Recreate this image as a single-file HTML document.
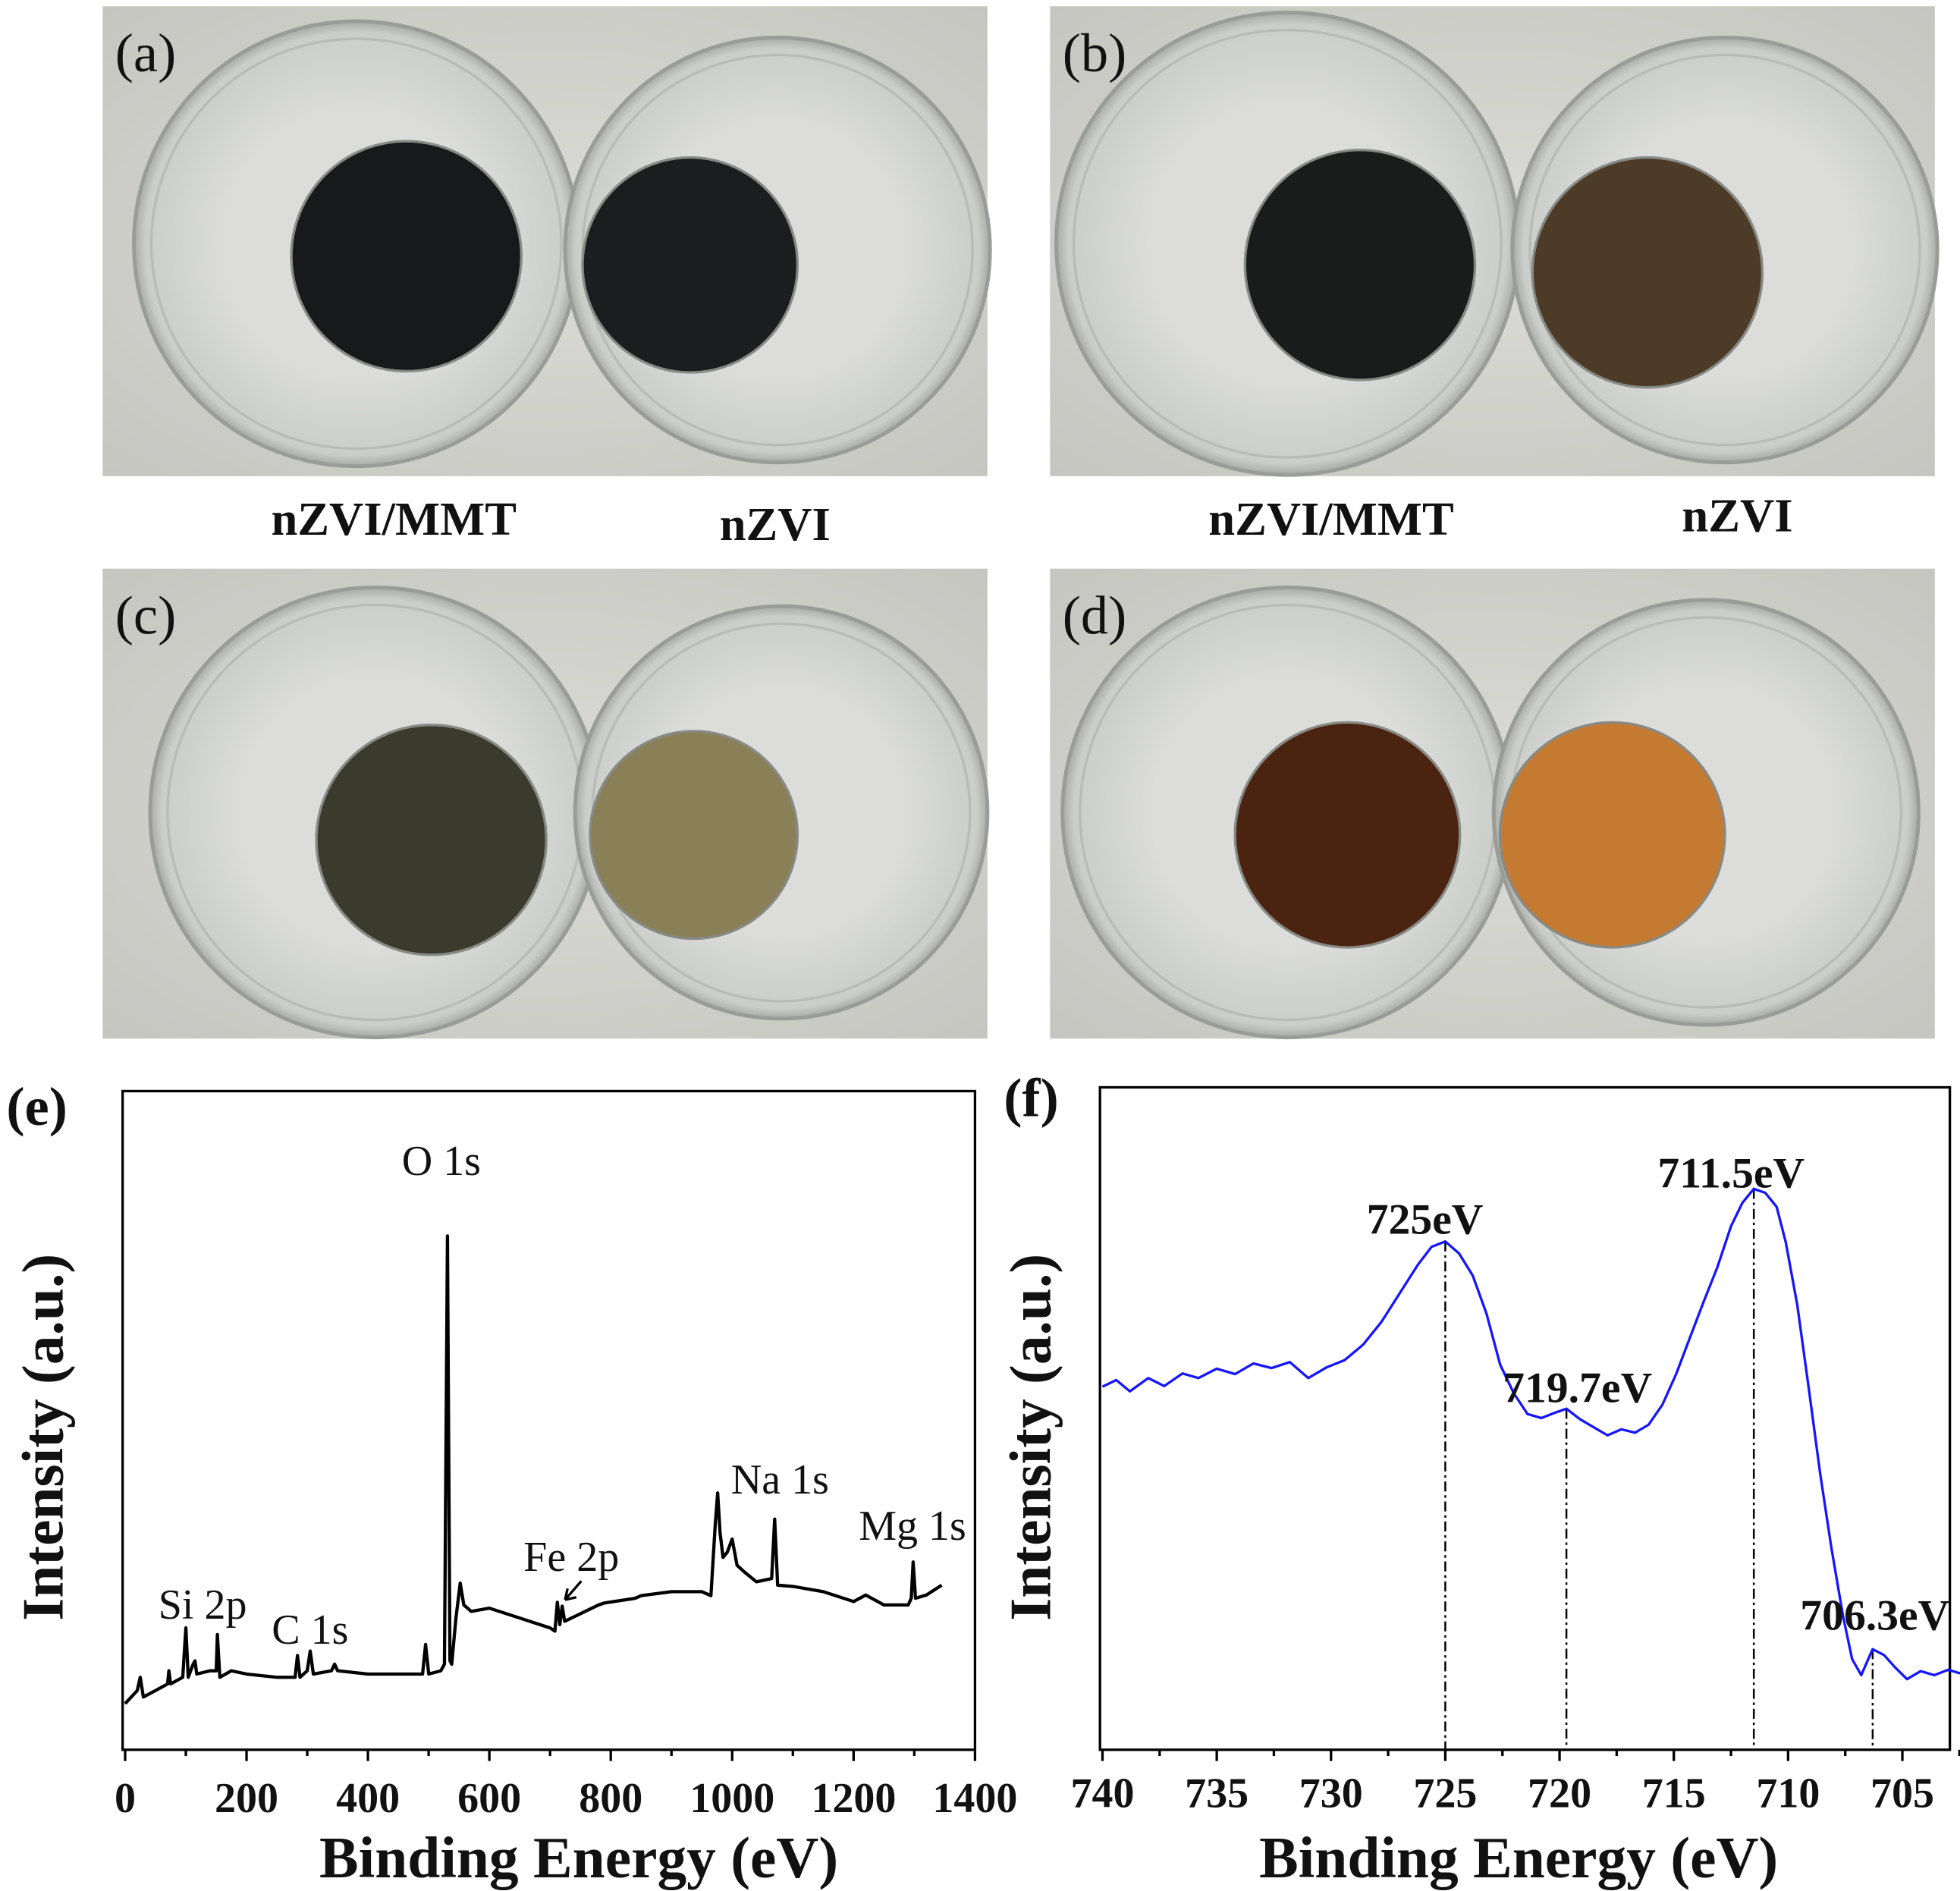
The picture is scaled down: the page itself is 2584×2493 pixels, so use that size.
<!DOCTYPE html>
<html><head><meta charset="utf-8"><style>
html,body{margin:0;padding:0;background:#fff}
svg{display:block}
text{font-family:"Liberation Serif",serif;fill:#111}
</style></head><body>
<svg id="fig" width="2584" height="2493" viewBox="0 0 1568 1513" xmlns="http://www.w3.org/2000/svg">
<defs>
<radialGradient id="bgA" cx="0.5" cy="0.5" r="0.7"><stop offset="0" stop-color="#dcdcd8"/><stop offset="1" stop-color="#c6c6c1"/></radialGradient>
<radialGradient id="glass" cx="0.5" cy="0.5" r="0.5"><stop offset="0.6" stop-color="#dcdddb"/><stop offset="0.95" stop-color="#cbcdc9"/><stop offset="1" stop-color="#a8aaa6"/></radialGradient>
</defs>
<g id="photos"></g>
<g id="chartE"></g>
<g id="chartF"></g>
</svg>
<script>
// ---------- data: panel (e) survey ----------
const eEnergy=[0,10,20,25,30,50,70,72,75,95,100,104,112,115,118,140,150,152,156,175,200,250,280,284,288,300,305,310,340,345,350,400,450,490,495,500,520,526,531,535,538,545,552,558,570,600,650,700,708,712,716,720,724,780,790,840,850,900,950,965,972,976,980,985,992,1000,1008,1020,1040,1065,1070,1075,1100,1150,1200,1220,1250,1290,1295,1298,1302,1320,1345];
const eIntensity=[7,8,9,11,8,9,10,12,10,11,18.5,11,13,13.5,11.5,12,12,17.5,11,12,11.5,11,11,14.3,11,12,15,11.5,12,13,12,11.5,11.5,11.5,16,11.5,12,13,78,13.5,13,20,25.3,22,21,21.5,20,18.5,18,22.4,19,21.8,19.5,22,22.3,23,23.4,24,24,23.4,34,39,33,29.2,30,32,28,27,25.5,26,35,25,24.8,24,22.5,23.5,22,22,23,28.5,23,23.5,25];
// ---------- data: panel (f) Fe 2p ----------
const fEnergy=[740,739.4,738.8,738,737.3,736.5,735.8,735,734.2,733.4,732.6,731.8,731,730.2,729.4,728.6,727.8,727,726.2,725.6,725,724.4,723.8,723.2,722.6,722,721.4,720.8,720.2,719.7,719.1,718.5,717.9,717.3,716.7,716.1,715.5,714.9,714.3,713.7,713.1,712.5,712,711.5,711,710.5,710.1,709.6,709.1,708.6,708.1,707.6,707.2,706.8,706.3,705.8,705.3,704.8,704.2,703.6,703,702.5,702];
const fIntensity=[54.5,55.5,53.8,55.8,54.6,56.5,55.8,57.2,56.4,58,57.3,58.2,55.8,57.4,58.5,60.8,64.2,68.5,72.8,75.5,76.3,74.5,71.2,65.5,57.8,53.5,50.4,49.8,50.6,51.2,49.6,48.4,47.2,48.1,47.6,48.8,51.8,56.4,61.8,67.2,72.4,78.6,82.1,84.2,83.6,81.5,76.2,66.8,54.4,41.5,30.2,20.1,13.6,11.2,15.1,14.2,12.3,10.6,11.8,11.2,12,11.5,11.8];
const eTicks=[0,200,400,600,800,1000,1200,1400];
const fTicks=[740,735,730,725,720,715,710,705];
const fPeaks=[725,719.7,711.5,706.3];
const fPeakLabels=["725eV","719.7eV","711.5eV","706.3eV"];
const ePeakLabels=["O 1s","Na 1s","Mg 1s","Fe 2p","Si 2p","C 1s"];

const NS="http://www.w3.org/2000/svg";
function mk(tag,attrs,parent){const el=document.createElementNS(NS,tag);for(const k in attrs)el.setAttribute(k,attrs[k]);parent.appendChild(el);return el;}

// ---------- photos ----------
const photos=document.getElementById('photos');
const panels=[
 {id:'a',x:82,y:5,liq:[[325,205,92,'#17191a'],[552,212,86,'#1b1d1e']],glassL:[285,195,178],glassR:[622,200,170]},
 {id:'b',x:840,y:5,liq:[[1088,212,92,'#1a1c1c'],[1318,218,92,'#4b3b27']],glassL:[1030,195,185],glassR:[1380,200,170]},
 {id:'c',x:82,y:455,liq:[[345,672,92,'#3b3b2d'],[555,668,83,'#898058']],glassL:[300,650,180],glassR:[625,650,165]},
 {id:'d',x:840,y:455,liq:[[1078,668,90,'#4b2311'],[1290,668,90,'#c57a32']],glassL:[1030,650,180],glassR:[1365,650,170]}
];
panels.forEach(p=>{
 const g=mk('g',{},photos);
 
 
 mk('rect',{x:p.x,y:p.y,width:708,height:376,fill:'url(#bgA)'},g);
 [p.glassL,p.glassR].forEach(c=>{
  mk('circle',{cx:c[0],cy:c[1],r:c[2],fill:'url(#glass)',stroke:'#9a9c98','stroke-width':3},g);
  mk('circle',{cx:c[0],cy:c[1],r:c[2]-14,fill:'none',stroke:'#b9bbb7','stroke-width':2},g);
 });
 p.liq.forEach(l=>{
  const c=mk('circle',{cx:l[0],cy:l[1],r:l[2],fill:l[3],stroke:'#888a86','stroke-width':2},g);
  
  
 });
 const t=mk('text',{x:p.x+10,y:p.y+52,'font-size':44},g);
 t.textContent='('+p.id+')';
 
 
});
[['nZVI/MMT',315,428],['nZVI',620,432],['nZVI/MMT',1065,428],['nZVI',1390,425]].forEach(s=>{
 const t=mk('text',{x:s[1],y:s[2],'font-size':38,'font-weight':'bold','text-anchor':'middle'},photos);
 t.textContent=s[0];
 
 
});

// ---------- chart e ----------
(function(){
 const g=document.getElementById('chartE');
 const L=98,R=780,T=873,B=1400;
 const x=v=>100+(v-0)/1400*(780-100);
 const y=v=>B-v/100*(B-T);
 const fr=mk('rect',{x:L,y:T,width:R-L,height:B-T,fill:'none',stroke:'#000','stroke-width':2},g);
 
 
 let d='';eEnergy.forEach((v,i)=>{d+=(i?'L':'M')+x(v).toFixed(1)+','+y(eIntensity[i]).toFixed(1);});
 const ln=mk('path',{d:d,fill:'none',stroke:'#000','stroke-width':2.6,'stroke-linejoin':'round'},g);
 
 
 for(let v=0;v<=1400;v+=100){mk('line',{x1:x(v),x2:x(v),y1:B,y2:B+(v%200?5:9),stroke:'#000','stroke-width':2},g);}
 eTicks.forEach(v=>{const t=mk('text',{x:x(v),y:B+50,'font-size':34,'font-weight':'bold','text-anchor':'middle'},g);t.textContent=v;
  
  });
 const xt=mk('text',{x:463,y:1502,'font-size':47,'font-weight':'bold','text-anchor':'middle'},g);xt.textContent='Binding Energy (eV)';
 
 
 const yt=mk('text',{x:0,y:0,'font-size':47,'font-weight':'bold','text-anchor':'middle',transform:'translate(50,1150) rotate(-90)'},g);yt.textContent='Intensity (a.u.)';
 
 
 const pl=mk('text',{x:5,y:900,'font-size':44,'font-weight':'bold'},g);pl.textContent='(e)';
 
 
 const pos=[[353,940],[624,1195],[730,1232],[457,1257],[162,1295],[248,1315]];
 ePeakLabels.forEach((s,i)=>{const t=mk('text',{x:pos[i][0],y:pos[i][1],'font-size':34,'text-anchor':'middle'},g);t.textContent=s;
  
  });
 mk('path',{d:'M465,1265 L452,1280 M452,1280 l2,-9 M452,1280 l9,-2',stroke:'#000','stroke-width':2,fill:'none'},g);
})();

// ---------- chart f ----------
(function(){
 const g=document.getElementById('chartF');
 const L=880,R=1560,T=870,B=1400;
 const x=v=>882+(740-v)/35*(1522-882);
 const y=v=>B-v/100*(B-T+3);
 const fr=mk('rect',{x:L,y:T,width:R-L,height:B-T,fill:'none',stroke:'#000','stroke-width':2},g);
 
 
 fPeaks.forEach((v,i)=>{
  const idx=fEnergy.reduce((b,e,j)=>Math.abs(e-v)<Math.abs(fEnergy[b]-v)?j:b,0);
  const ln=mk('line',{x1:x(v),x2:x(v),y1:y(fIntensity[idx]),y2:B,stroke:'#000','stroke-width':1.5,'stroke-dasharray':'8,3,2,3'},g);
  
  
 });
 let d='';fEnergy.forEach((v,i)=>{d+=(i?'L':'M')+x(v).toFixed(1)+','+y(fIntensity[i]).toFixed(1);});
 const ln=mk('path',{d:d,fill:'none',stroke:'#1515ff','stroke-width':2,'stroke-linejoin':'round'},g);
 
 
 for(let v=740;v>=702;v-=2.5){mk('line',{x1:x(v),x2:x(v),y1:B,y2:B+(v%5?5:9),stroke:'#000','stroke-width':2},g);}
 fTicks.forEach(v=>{const t=mk('text',{x:x(v),y:B+46,'font-size':34,'font-weight':'bold','text-anchor':'middle'},g);t.textContent=v;
  
  });
 const xt=mk('text',{x:1215,y:1502,'font-size':47,'font-weight':'bold','text-anchor':'middle'},g);xt.textContent='Binding Energy (eV)';
 
 
 const yt=mk('text',{x:0,y:0,'font-size':47,'font-weight':'bold','text-anchor':'middle',transform:'translate(840,1150) rotate(-90)'},g);yt.textContent='Intensity (a.u.)';
 
 
 const pl=mk('text',{x:803,y:893,'font-size':44,'font-weight':'bold'},g);pl.textContent='(f)';
 
 
 const pos=[[1140,987],[1262,1122],[1385,950],[1500,1304]];
 fPeakLabels.forEach((s,i)=>{const t=mk('text',{x:pos[i][0],y:pos[i][1],'font-size':35,'font-weight':'bold','text-anchor':'middle'},g);t.textContent=s;
  
  });
})();
</script>
</body></html>
